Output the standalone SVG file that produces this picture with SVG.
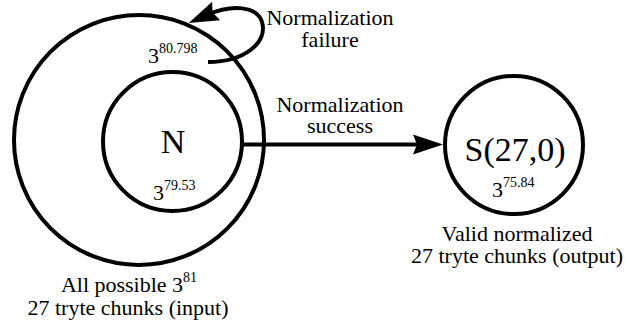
<svg xmlns="http://www.w3.org/2000/svg" width="630" height="327" viewBox="0 0 630 327" font-family="Liberation Serif, Tinos, DejaVu Serif, serif">
<style>
.c{fill:none;stroke:#000;stroke-width:4}
text{fill:#000}
.lbl{font-size:22px;text-anchor:middle}
.big{font-size:34px;text-anchor:middle}
.b{font-size:22px}
.sup{font-size:14px}
.e{fill:none;stroke:#000;stroke-width:4}
</style>
<defs>
<marker id="ah" markerUnits="userSpaceOnUse" markerWidth="32" markerHeight="22" refX="10" refY="0" orient="auto" overflow="visible" viewBox="0 -11 32 22">
<path d="M0,-10 L30,0 L0,10 L4,0 Z" fill="#000"/>
</marker>
</defs>
<rect width="630" height="327" fill="#fff"/>
<g id="all">
<circle class="c" cx="139" cy="140" r="125"/>
<text class="b" x="148" y="63" font-family="Liberation Serif">3<tspan class="sup" dy="-10">80.798</tspan></text>
<text class="lbl" x="129" y="292">All possible 3<tspan class="sup" dy="-10">81</tspan></text>
<text class="lbl" x="128" y="315">27 tryte chunks (input)</text>
</g>
<g id="N">
<circle class="c" cx="172.5" cy="141.5" r="69.5"/>
<text class="big" x="173" y="153">N</text>
<text class="b" x="153" y="200">3<tspan class="sup" dy="-10">79.53</tspan></text>
</g>
<g id="S">
<circle class="c" cx="514" cy="145" r="69"/>
<text class="big" x="515" y="161">S(27,0)</text>
<text class="b" x="492" y="197">3<tspan class="sup" dy="-10">75.84</tspan></text>
<text class="lbl" x="517" y="241">Valid normalized</text>
<text class="lbl" x="517" y="263">27 tryte chunks (output)</text>
</g>
<g id="connectors">
<path class="e" d="M208,62 C245,62 268,42 262,22 C257,6 232,4 207,15" marker-end="url(#ah)"/>
<text class="lbl" x="330" y="25">Normalization</text>
<text class="lbl" x="330" y="47">failure</text>
<path class="e" d="M242,144.5 L423,144.5" marker-end="url(#ah)"/>
<text class="lbl" x="340" y="112">Normalization</text>
<text class="lbl" x="340" y="133">success</text>
</g>
</svg>
